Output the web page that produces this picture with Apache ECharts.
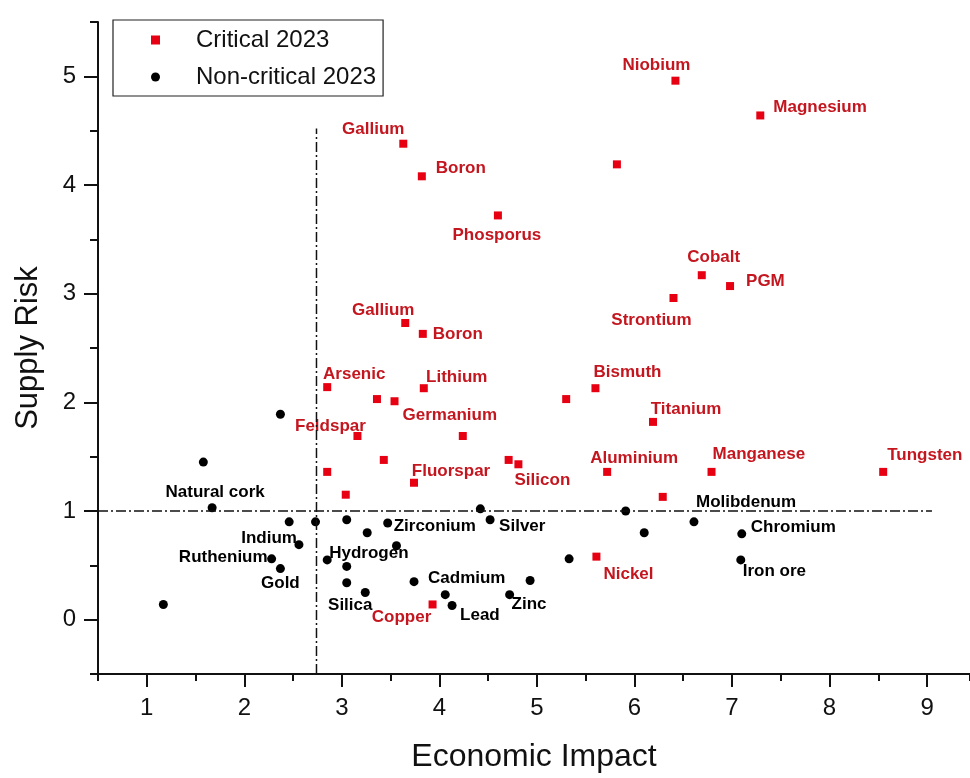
<!DOCTYPE html>
<html>
<head>
<meta charset="utf-8">
<script src="https://cdn.jsdelivr.net/npm/echarts@6/dist/echarts.min.js"></script>
<style>
  html, body { margin: 0; padding: 0; background: #fff; }
  #chart { width: 970px; height: 778px; }
</style>
</head>
<body>
<div id="chart"></div>
<script>
// critical materials 2023 (red squares)
var critX = [6.42, 7.29, 5.82, 6.69, 6.98, 6.40, 3.63, 3.82, 4.60, 3.65, 3.83, 2.85, 3.84, 3.36, 3.54, 4.24,
    5.30, 5.60, 6.19, 3.16, 3.43, 2.85, 3.74, 4.71, 4.81, 3.04, 5.72, 6.29, 6.79, 8.55, 5.61, 3.93];
var critY = [4.96, 4.64, 4.19, 3.17, 3.07, 2.96, 4.38, 4.08, 3.72, 2.73, 2.63, 2.14, 2.13, 2.03, 2.01, 1.69,
    2.03, 2.13, 1.82, 1.69, 1.47, 1.36, 1.26, 1.47, 1.43, 1.15, 1.36, 1.13, 1.36, 1.36, 0.58, 0.14];
var critNames = ['Niobium', 'Magnesium', '', 'Cobalt', 'PGM', 'Strontium', 'Gallium', 'Boron', 'Phosporus',
    'Gallium', 'Boron', 'Arsenic', 'Lithium', '', '', 'Germanium', '', 'Bismuth', 'Titanium', 'Feldspar',
    '', '', 'Fluorspar', '', 'Silicon', '', 'Aluminium', '', 'Manganese', 'Tungsten', 'Nickel', 'Copper'];

// non-critical 2023 (black dots)
var nonX = [1.58, 1.67, 2.46, 2.73, 3.05, 3.47, 3.26, 2.56, 3.56, 2.85, 2.28, 2.37, 3.05, 3.05, 3.24,
    3.74, 4.93, 4.06, 4.13, 4.72, 1.17, 4.42, 4.52, 2.37, 5.91, 6.10, 6.61, 7.10, 7.09, 5.33];
var nonY = [1.45, 1.03, 0.90, 0.90, 0.92, 0.89, 0.80, 0.69, 0.68, 0.55, 0.56, 0.47, 0.49, 0.34, 0.25,
    0.35, 0.36, 0.23, 0.13, 0.23, 0.14, 1.02, 0.92, 1.89, 1.00, 0.80, 0.90, 0.79, 0.55, 0.56];
var nonNames = ['', 'Natural cork', '', '', '', 'Zirconium', '', 'Indium', '', 'Hydrogen', 'Ruthenium',
    'Gold', '', '', 'Silica', 'Cadmium', '', '', 'Lead', 'Zinc', '', '', 'Silver', '', '', '',
    'Molibdenum', 'Chromium', 'Iron ore', ''];

// threshold lines
var thresholdX = 2.74, thresholdXTop = 4.52;
var thresholdY = 1.0, thresholdYEnd = 9.05;

var xTicks = [1, 2, 3, 4, 5, 6, 7, 8, 9];
var yTicks = [0, 1, 2, 3, 4, 5];

// label placement: [align, dx, dy] in px from the marker
var critLabelPos = [
    ['center', -19, -15], ['left', 13, -8], null, ['center', 12, -18], ['left', 16, -5], ['center', -22, 22],
    ['center', -30, -14], ['left', 14, -8], ['center', -1, 20], ['center', -22, -13], ['left', 10, 0],
    ['center', 27, -13], ['center', 33, -11], null, null, ['center', -13, -21], null, ['center', 32, -16],
    ['center', 33, -13], ['center', -27, -10], null, null, ['center', 37, -11], null, ['center', 24, 16],
    null, ['center', 27, -14], null, ['left', 1, -18], ['left', 4, -17], ['left', 7, 18], ['center', -31, 13]
];
var nonLabelPos = [
    null, ['center', 3, -15], null, null, null, ['left', 6, 3], null, ['right', -2, -6], null, ['left', 2, -7],
    ['right', -4, -2], ['center', 0, 15], null, null, ['center', -15, 13], ['left', 14, -3], null, null,
    ['left', 8, 10], ['left', 2, 10], null, null, ['left', 9, 7], null, null, null, ['left', 2, -20],
    ['left', 9, -7], ['left', 2, 11], null
];

var FONT = '"Liberation Sans", Arial, sans-serif';

function buildData(xs, ys, names, pos) {
    var out = [];
    for (var i = 0; i < xs.length; i++) {
        var item = { value: [xs[i], ys[i]], name: names[i] };
        if (names[i] && pos[i]) {
            item.label = {
                show: true,
                position: 'inside',
                align: pos[i][0],
                verticalAlign: 'middle',
                offset: [pos[i][1], pos[i][2]],
                formatter: names[i]
            };
        }
        out.push(item);
    }
    return out;
}

var chart = echarts.init(document.getElementById('chart'));

var dashDot = { color: '#111', width: 1.5, type: [10, 3, 2, 3] };

// the x axis runs past the right edge of the picture
var xMin = 0.5, xMax = 9.44;

var option = {
    backgroundColor: '#fff',
    animation: false,
    grid: { left: 98, right: 0, top: 22, bottom: 104 },
    legend: {
        data: ['Critical 2023', 'Non-critical 2023'],
        orient: 'vertical',
        left: 113,
        top: 20,
        padding: [7, 7, 6, 38],
        itemWidth: 9,
        itemHeight: 9,
        itemGap: 11,
        borderColor: '#222',
        borderWidth: 1.2,
        backgroundColor: '#fff',
        textStyle: { fontFamily: FONT, fontSize: 24, color: '#111', lineHeight: 26, padding: [0, 0, 0, 31] }
    },
    xAxis: [{
        type: 'value',
        min: xMin,
        max: xMax,
        interval: 0.5,
        name: 'Economic Impact',
        nameLocation: 'middle',
        nameGap: 67,
        nameTextStyle: { fontFamily: FONT, fontSize: 32, color: '#111', padding: [0, 0, 0, 0] },
        axisLine: { show: true, onZero: false, lineStyle: { color: '#111', width: 2 } },
        axisTick: { show: true, length: 7, lineStyle: { color: '#111', width: 2 } },
        axisLabel: { customValues: xTicks, margin: 22, fontFamily: FONT, fontSize: 24, color: '#111' },
        splitLine: { show: false }
    }, {
        type: 'value',
        position: 'bottom',
        min: xMin,
        max: xMax,
        interval: 0.5,
        axisLine: { show: false, onZero: false },
        axisTick: { show: true, customValues: xTicks, length: 13, lineStyle: { color: '#111', width: 2 } },
        axisLabel: { show: false },
        splitLine: { show: false }
    }],
    yAxis: [{
        type: 'value',
        min: -0.5,
        max: 5.5,
        interval: 0.5,
        name: 'Supply Risk',
        nameLocation: 'middle',
        nameGap: 54,
        nameTextStyle: { fontFamily: FONT, fontSize: 31, color: '#111' },
        axisLine: { show: true, onZero: false, lineStyle: { color: '#111', width: 2 } },
        axisTick: { show: true, length: 8, lineStyle: { color: '#111', width: 2 } },
        axisLabel: { customValues: yTicks, margin: 22, fontFamily: FONT, fontSize: 24, color: '#111' },
        splitLine: { show: false }
    }, {
        type: 'value',
        position: 'left',
        min: -0.5,
        max: 5.5,
        interval: 0.5,
        axisLine: { show: false, onZero: false },
        axisTick: { show: true, customValues: yTicks, length: 14, lineStyle: { color: '#111', width: 2 } },
        axisLabel: { show: false },
        splitLine: { show: false }
    }],
    series: [{
        name: 'threshold-x',
        type: 'line',
        symbol: 'none',
        silent: true,
        lineStyle: dashDot,
        data: [[thresholdX, -0.5], [thresholdX, thresholdXTop]]
    }, {
        name: 'threshold-y',
        type: 'line',
        symbol: 'none',
        silent: true,
        lineStyle: dashDot,
        data: [[0.5, thresholdY], [thresholdYEnd, thresholdY]]
    }, {
        name: 'Critical 2023',
        type: 'scatter',
        symbol: 'rect',
        symbolSize: 8,
        itemStyle: { color: '#e60012', opacity: 1 },
        label: { fontFamily: FONT, fontSize: 17, fontWeight: 'bold', color: '#c4161f' },
        data: buildData(critX, critY, critNames, critLabelPos)
    }, {
        name: 'Non-critical 2023',
        type: 'scatter',
        symbol: 'circle',
        symbolSize: 9,
        itemStyle: { color: '#000', opacity: 1 },
        label: { fontFamily: FONT, fontSize: 17, fontWeight: 'bold', color: '#000' },
        data: buildData(nonX, nonY, nonNames, nonLabelPos)
    }]
};

chart.setOption(option);
</script>
</body>
</html>
